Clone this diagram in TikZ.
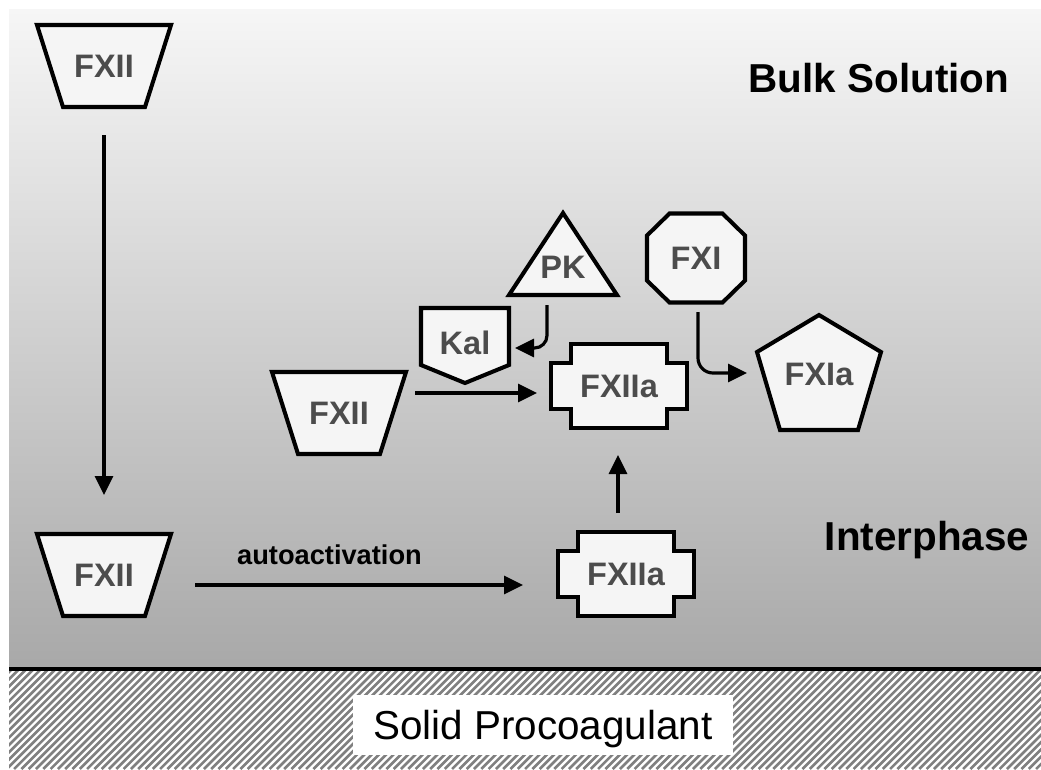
\documentclass[tikz,border=0pt]{standalone}
\usepackage{fontspec}
\setmainfont{Liberation Sans}
\usetikzlibrary{arrows.meta,calc}

\tikzset{
    molecule/.style={draw=black, line width=2.3pt, fill=white!96!black, line join=miter},
    moltext/.style={text=black!70, font=\bfseries\fontsize{18.5}{18.5}\selectfont, inner sep=0pt},
    region/.style={font=\bfseries\fontsize{23}{23}\selectfont, anchor=base, inner sep=0pt},
    reaction/.style={line width=1.8pt, -{Triangle[length=0.38cm,width=0.36cm]}},
    hatchline/.style={line width=1.5pt, black!50},
    % shapes of the factors
    fxiishape/.pic={\draw[molecule] (-67,-41) -- (67,-41) -- (41,41) -- (-41,41) -- cycle;},
    fxiiashape/.pic={\draw[molecule] (-48,-42) -- (48,-42) -- (48,-23) -- (68,-23) -- (68,23) -- (48,23)
        -- (48,42) -- (-48,42) -- (-48,23) -- (-68,23) -- (-68,-23) -- (-48,-23) -- cycle;},
    kalshape/.pic={\draw[molecule] (-44,-35) -- (44,-35) -- (44,22) -- (0,40) -- (-44,22) -- cycle;},
    pkshape/.pic={\draw[molecule] (0,-54) -- (54,28) -- (-54,28) -- cycle;},
    fxishape/.pic={\draw[molecule] (-26.5,-44.5) -- (26.5,-44.5) -- (49,-22.5) -- (49,22.5)
        -- (26.5,44.5) -- (-26.5,44.5) -- (-49,22.5) -- (-49,-22.5) -- cycle;},
    fxiashape/.pic={\draw[molecule] (0,-59) -- (62,-22) -- (39,56) -- (-39,56) -- (-62,-22) -- cycle;}
}

\begin{document}
\begin{tikzpicture}[x=0.02cm, y=-0.02cm]
    % Frame
        \useasboundingbox (0,0) rectangle (1041,769);
        \fill[white] (0,0) rectangle (1041,769);
        \shade[top color=gray!7, bottom color=gray!68] (9,9) rectangle (1041,669);

    % Solid surface
        \begin{scope}
            \clip (9,669) rectangle (1041,769);
            \foreach \hx in {-110,-102.7,...,1045}
                \draw[hatchline] (\hx,769) -- ++(110,-110);
        \end{scope}
        \draw[line width=2.8pt] (9,669) -- (1041,669);
        \node[fill=white, minimum width=7.6cm, minimum height=1.2cm, text height=0.62cm, text depth=0.06cm,
              font=\fontsize{23}{23}\selectfont] (solid) at (543,725) {Solid Procoagulant};

    % Region labels
        \node[region] (bulk) at (879,92) {Bulk Solution};
        \node[region] (inter) at (927,550) {Interphase};

    % Factors
        \pic at (104,66) {fxiishape};
        \node[moltext] (fxiiTop) at (104,66) {FXII};
        \pic at (104,575) {fxiishape};
        \node[moltext] (fxiiBot) at (104,575) {FXII};
        \pic at (339,413) {fxiishape};
        \node[moltext] (fxiiMid) at (339,413) {FXII};
        \pic at (626,574) {fxiiashape};
        \node[moltext] (fxiiaBot) at (626,574) {FXIIa};
        \pic at (619,386) {fxiiashape};
        \node[moltext] (fxiiaMid) at (619,386) {FXIIa};
        \pic at (465,343) {kalshape};
        \node[moltext] (kal) at (465,343) {Kal};
        \pic at (563,267) {pkshape};
        \node[moltext] (pk) at (563,267) {PK};
        \pic at (696,258) {fxishape};
        \node[moltext] (fxi) at (696,258) {FXI};
        \pic at (819,374) {fxiashape};
        \node[moltext] (fxia) at (819,374) {FXIa};

    % Arrows
        \draw[reaction] ($(fxiiTop.center)+(0,69)$) -- ($(fxiiBot.center)+(0,-80)$);
        \draw[reaction] ($(fxiiBot.center)+(91,10)$) -- ($(fxiiaBot.center)+(-103,11)$)
            node[pos=0.41, above=0.38cm, inner sep=0pt, font=\bfseries\fontsize{15.5}{15.5}\selectfont] (auto) {autoactivation};
        \draw[reaction] ($(fxiiaBot.center)+(-8,-61)$) -- ($(fxiiaMid.center)+(-1,69)$);
        \draw[reaction] ($(fxiiMid.center)+(76,-20)$) -- ($(fxiiaMid.center)+(-82,7)$);
        \draw[reaction, rounded corners=0.25cm] ($(pk.center)+(-16,38)$) |- ($(kal.center)+(50,5)$);
        \draw[reaction, rounded corners=0.3cm] ($(fxi.center)+(2,54)$) |- ($(fxia.center)+(-72,-1)$);
\end{tikzpicture}
\end{document}
